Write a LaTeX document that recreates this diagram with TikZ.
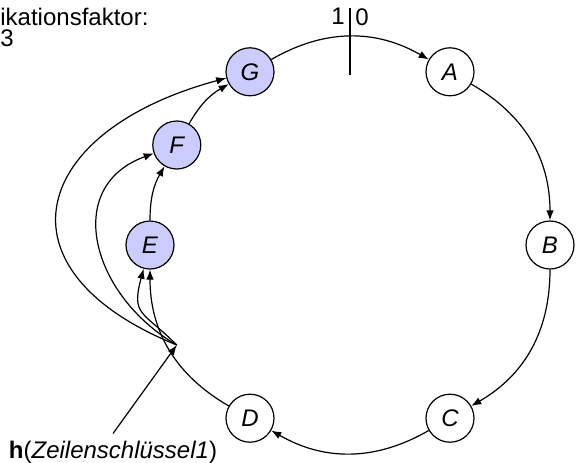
\documentclass[tikz,border=0pt]{standalone}
\usepackage{fontspec}
\setsansfont{Liberation Sans}
\usetikzlibrary{arrows.meta,positioning}

\begin{document}
\begin{tikzpicture}[
    x=0.5pt, y=0.5pt,
    % --- Styles ---
    font=\sffamily\fontsize{12}{10.5}\selectfont,
    peer node/.style={circle, draw, line width=0.6pt, minimum size=24pt,
        inner sep=0pt, font=\sffamily\itshape\fontsize{12}{12}\selectfont},
    % Blue fill for the replicas
    replica node/.style={peer node, fill=blue!20},
    ring arrow/.style={line width=0.6pt, -{Latex[length=5pt,width=3.8pt]}},
    cut line/.style={line width=1.4pt},
    cut label/.style={inner xsep=2.5pt, inner ysep=0pt}
]

%================CONFIGURATION================
% \ringradius: radius of the ring
\def\ringradius{200}
%=============================================

\useasboundingbox (-350,-217) rectangle (228,245);

% --- 1. Nodes on the ring ---
\foreach \name/\angle in {A/60, B/0, C/-60, D/-120} {
    \node[peer node] (\name) at (\angle:\ringradius) {\name};
}
\foreach \name/\angle in {E/180, F/150, G/120} {
    \node[replica node] (\name) at (\angle:\ringradius) {\name};
}

% --- 2. Ring connectors ---
\foreach \from/\to/\bend in {G/A/30, A/B/30, B/C/30, C/D/30, D/E/30, E/F/15, F/G/15} {
    \draw[ring arrow] (\from) to[bend left=\bend] (\to);
}

% --- 3. Cut between 1 and 0 ---
\coordinate (cut top) at (0,237);
\coordinate (cut bottom) at (0,170);
\draw[cut line] (cut top) -- (cut bottom);
\node[cut label, anchor=north east] (one) at (cut top) {1};
\node[cut label, anchor=north west] (zero) at (cut top) {0};

% --- 4. Hash of the key and its replicas ---
\coordinate (hash) at (210:\ringradius);
\node[anchor=base] (key) at (-237,-213) {\textbf{h}(\textit{Zeilenschlüssel1})};
\draw[ring arrow] (key.north) -- (hash);
\draw[ring arrow] (hash) to[out=135, in=-105, looseness=1.5] (E);
\draw[ring arrow] (hash) to[out=150, in=200, looseness=1.3] (F);
\draw[ring arrow] (hash) to[out=158, in=195, looseness=1.9] (G);

% Replication factor (cut at the left edge)
\node[anchor=north west, align=left, inner sep=0pt] (factor) at (-350,237)
    {ikationsfaktor:\\3};

\end{tikzpicture}
\end{document}
